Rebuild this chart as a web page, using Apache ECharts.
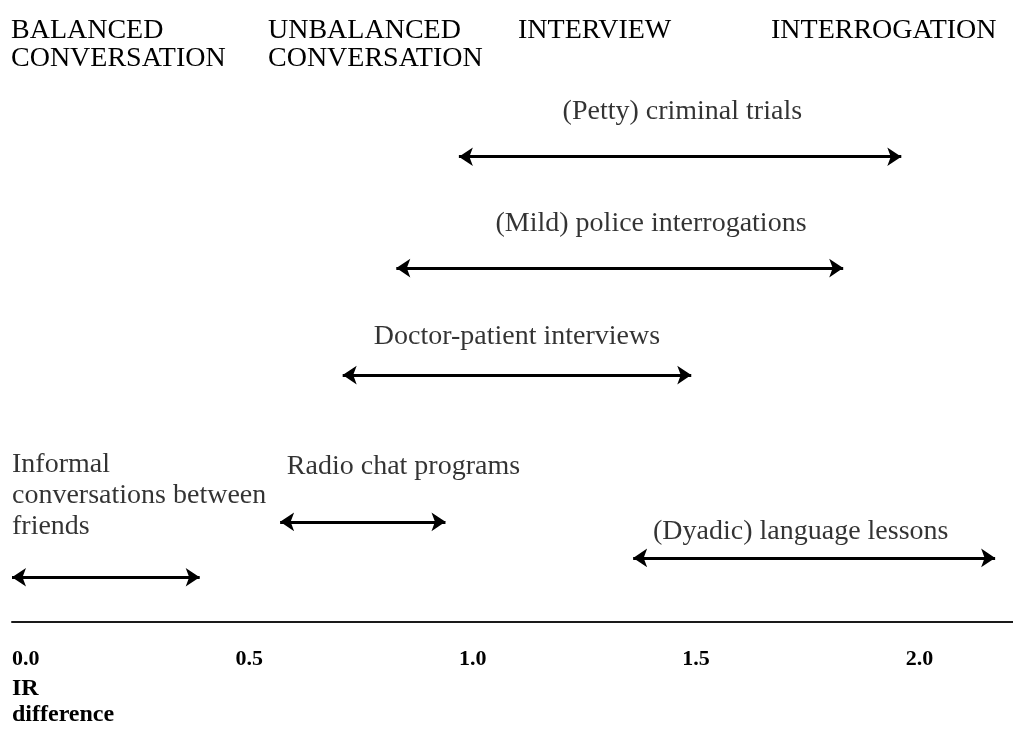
<!DOCTYPE html>
<html>
<head>
<meta charset="utf-8">
<script src="https://cdn.jsdelivr.net/npm/echarts@6/dist/echarts.min.js"></script>
<style>
  html, body { margin: 0; padding: 0; background: #fff; }
  #main { width: 1013px; height: 729px; }
</style>
</head>
<body>
<div id="main"></div>
<script>
// IR difference ranges of each speech-exchange type
let activities = [
  '(Petty) criminal trials',
  '(Mild) police interrogations',
  'Doctor-patient interviews',
  'Radio chat programs',
  '(Dyadic) language lessons',
  'Informal\nconversations between\nfriends'
];
let irFrom = [1.00, 0.86, 0.74, 0.60, 1.39, 0.00];
let irTo   = [1.99, 1.86, 1.52, 0.97, 2.20, 0.42];
let level  = [7.48, 5.69, 3.97, 1.61, 1.03, 0.72];

// where each caption sits (x in IR units, y in level units)
let captionX = [1.50, 1.43, 1.13, 0.615, 1.765, 0.00];
let captionY = [8.20, 6.40, 4.58, 2.50, 1.45, 2.03];
let captionAlign = ['center', 'center', 'center', 'left', 'center', 'left'];

let xTicks = [0, 0.5, 1.0, 1.5, 2.0];
let headers = [
  ['BALANCED', 'CONVERSATION'],
  ['UNBALANCED', 'CONVERSATION'],
  ['INTERVIEW'],
  ['INTERROGATION']
];
let headerLeft = [11, 268, 518, 771];

let serif = '"Liberation Serif", "DejaVu Serif", serif';
let mychart = echarts.init(document.getElementById('main'));

let arrows = activities.map(function (name, i) {
  return { name: name, coords: [[irFrom[i], level[i]], [irTo[i], level[i]]] };
});
let captions = activities.map(function (name, i) {
  return {
    name: name,
    value: [captionX[i], captionY[i]],
    label: { align: captionAlign[i] }
  };
});

let option = {
  animation: false,
  backgroundColor: '#fff',
  grid: { left: 12, right: 0, top: 0, bottom: 107 },
  xAxis: {
    type: 'value',
    min: 0,
    max: 2.24,
    interval: 0.5,
    axisLine: { show: true, lineStyle: { color: '#1a1a1a', width: 2 } },
    axisTick: { show: false },
    splitLine: { show: false },
    axisLabel: {
      showMaxLabel: false,
      align: 'left',
      margin: 26,
      color: '#000',
      fontFamily: serif,
      fontWeight: 'bold',
      fontSize: 22,
      formatter: function (v) {
        return xTicks.indexOf(v) >= 0 ? v.toFixed(1) : '';
      }
    }
  },
  yAxis: {
    type: 'value',
    min: 0,
    max: 10,
    show: false
  },
  graphic: headers.map(function (lines, i) {
    return {
      type: 'text',
      left: headerLeft[i],
      top: 17,
      style: {
        text: lines.join('\n'),
        font: '28px ' + serif,
        lineHeight: 28,
        fill: '#000'
      }
    };
  }).concat([{
    type: 'text',
    left: 12,
    top: 676,
    style: {
      text: 'IR\ndifference',
      font: 'bold 24px ' + serif,
      lineHeight: 26,
      fill: '#000'
    }
  }]),
  series: [
    {
      type: 'lines',
      coordinateSystem: 'cartesian2d',
      symbol: ['arrow', 'arrow'],
      symbolSize: 14,
      lineStyle: { color: '#000', width: 2.8, opacity: 1 },
      data: arrows
    },
    {
      type: 'scatter',
      symbolSize: 0,
      data: captions,
      label: {
        show: true,
        position: 'inside',
        formatter: '{b}',
        color: '#000',
        fontFamily: serif,
        fontSize: 28,
        lineHeight: 31
      }
    }
  ]
};
mychart.setOption(option);
</script>
</body>
</html>
